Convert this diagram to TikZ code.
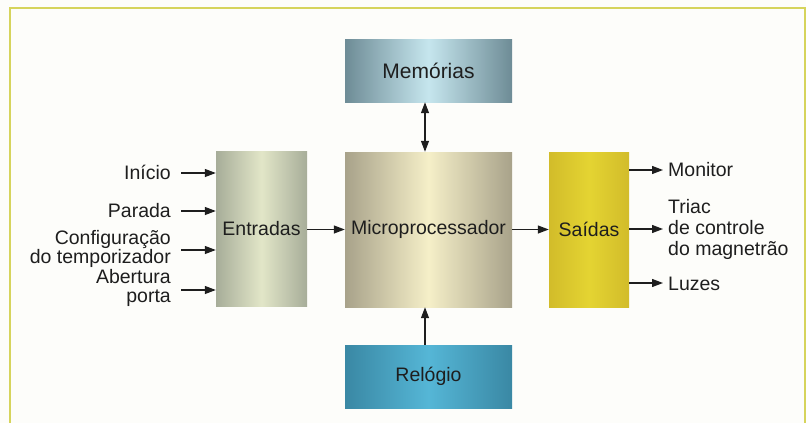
\documentclass[tikz,border=0pt]{standalone}
\usepackage{fontspec}
\setmainfont{Liberation Sans}
\usetikzlibrary{arrows.meta,calc}
\definecolor{txt}{HTML}{1E1E1E}
\definecolor{framec}{HTML}{D6D45C}
\definecolor{bgc}{HTML}{FDFDFA}
\definecolor{memE}{HTML}{6E8C96}
\definecolor{memC}{HTML}{C6E6EE}
\definecolor{micE}{HTML}{A8A28A}
\definecolor{micC}{HTML}{F5EFC8}
\definecolor{entE}{HTML}{A7AD99}
\definecolor{entC}{HTML}{E2E6C8}
\definecolor{saiE}{HTML}{D2BC2A}
\definecolor{saiC}{HTML}{E4D432}
\definecolor{relE}{HTML}{3A88A4}
\definecolor{relC}{HTML}{55B6D6}
\begin{document}
\begin{tikzpicture}[x=1pt,y=-1pt,
  blk/.style={inner sep=0pt, text=txt, font=\fontsize{19.5}{21}\selectfont},
  rlbl/.style={inner sep=0pt, text=txt, font=\fontsize{19.5}{21}\selectfont, align=left, anchor=west},
  llbl/.style={inner sep=0pt, text=txt, font=\fontsize{19.5}{19.5}\selectfont, align=right, anchor=east},
  arr/.style={-{Triangle[length=11pt,width=8pt]}, line width=1.2pt, draw=txt},
  darr/.style={{Triangle[length=11pt,width=8pt]}-{Triangle[length=11pt,width=8pt]}, line width=1.2pt, draw=txt},
  frameline/.style={draw=framec, line width=2pt}]
\useasboundingbox (0,0) rectangle (806,423);
\fill[bgc] (0,0) rectangle (806,423);
\draw[frameline] (10,424) -- (10,8) -- (805,8) -- (805,424);

% blocks
\node[blk, font=\fontsize{21}{22}\selectfont, minimum width=167pt, minimum height=63pt, left color=memE, right color=memE, middle color=memC] (mem) at (428.5,70.5) {Memórias};
\node[blk, minimum width=167pt, minimum height=155pt, left color=micE, right color=micE, middle color=micC] (mic) at (428.5,229.5) {Microprocessador};
\node[blk, minimum width=91pt, minimum height=155pt, left color=entE, right color=entE, middle color=entC] (ent) at (261.5,228.5) {Entradas};
\node[blk, minimum width=80pt, minimum height=155pt, left color=saiE, right color=saiE, middle color=saiC] (sai) at (589,229.5) {Saídas};
\node[blk, minimum width=167pt, minimum height=63pt, left color=relE, right color=relE, middle color=relC] (rel) at (428.5,376.5) {Relógio};

% inputs
\node[llbl] (ini) at (171,172) {Início};
\node[llbl] (par) at (171,211) {Parada};
\node[llbl] (cfg) at (171,249) {Configuração\\do temporizador};
\node[llbl] (abe) at (171,288) {Abertura\\porta};

\draw[arr] ([xshift=10pt,yshift=-1pt]ini.east) -- ([yshift=-1pt]ini.east -| ent.west);
\draw[arr] ([xshift=10pt]par.east) -- (par.east -| ent.west);
\draw[arr] ([xshift=10pt,yshift=-1pt]cfg.east) -- ([yshift=-1pt]cfg.east -| ent.west);
\draw[arr] ([xshift=10pt,yshift=-2pt]abe.east) -- ([yshift=-2pt]abe.east -| ent.west);

% outputs
\node[rlbl] (mon) at (668,170) {Monitor};
\node[rlbl] (tri) at (668,229) {Triac\\de controle\\do magnetrão};
\node[rlbl] (luz) at (668,284) {Luzes};

\draw[arr] (mon.west -| sai.east) -- ([xshift=-5pt]mon.west);
\draw[arr] (tri.west -| sai.east) -- ([xshift=-5pt]tri.west);
\draw[arr] ([yshift=1pt]luz.west -| sai.east) -- ([xshift=-5pt,yshift=1pt]luz.west);

% internal connections
\draw[arr] ([yshift=-1pt]ent.east) -- ([yshift=-1pt]ent.east -| mic.west);
\draw[arr] (mic.east) -- (mic.east -| sai.west);
\draw[darr] ([xshift=-3.5pt]mem.south) -- ([xshift=-3.5pt]mic.north);
\draw[arr] ([xshift=-3.5pt]rel.north) -- ([xshift=-3.5pt]mic.south);
\end{tikzpicture}
\end{document}
